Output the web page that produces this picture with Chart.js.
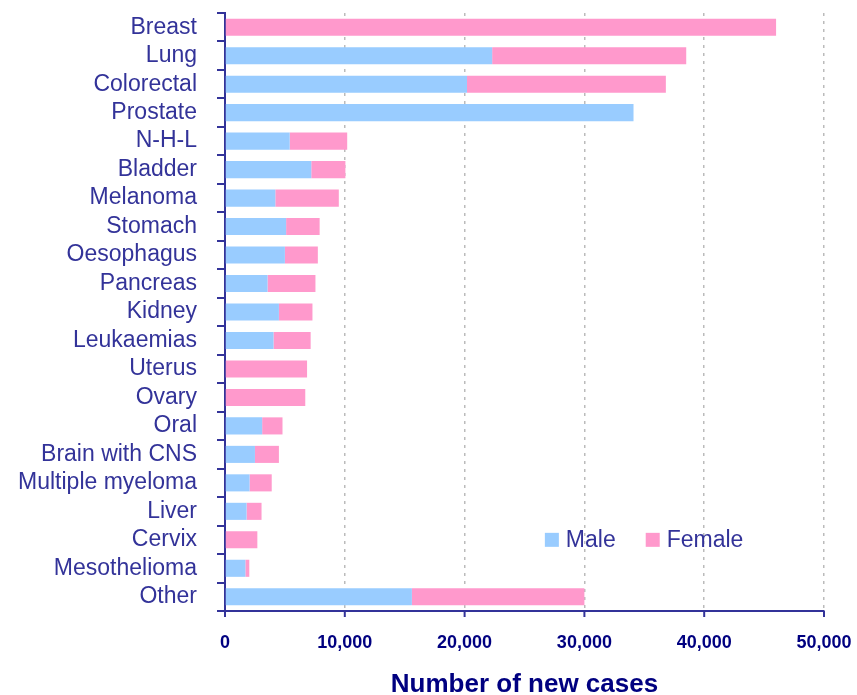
<!DOCTYPE html>
<html>
<head>
<meta charset="utf-8">
<script src="https://cdn.jsdelivr.net/npm/chart.js@4"></script>
<style>
  body { margin: 0; background: #fff; }
</style>
</head>
<body>
<canvas id="casesChart" width="857" height="695"></canvas>
<script>
var sites = ['Breast', 'Lung', 'Colorectal', 'Prostate', 'N-H-L', 'Bladder', 'Melanoma',
    'Stomach', 'Oesophagus', 'Pancreas', 'Kidney', 'Leukaemias', 'Uterus', 'Ovary', 'Oral',
    'Brain with CNS', 'Multiple myeloma', 'Liver', 'Cervix', 'Mesothelioma', 'Other'];
var maleCases = [0, 22300, 20200, 34100, 5400, 7200, 4200, 5100, 5000, 3550, 4500, 4050,
    0, 0, 3100, 2500, 2050, 1800, 0, 1700, 15600];
var femaleCases = [46000, 16200, 16600, 0, 4800, 2850, 5300, 2800, 2750, 4000, 2800, 3100,
    6850, 6700, 1700, 2000, 1850, 1250, 2700, 330, 14400];
var xTicks = [0, 10000, 20000, 30000, 40000, 50000];

var navy = '#333399';

// draws the small tick marks under the x axis and the legend inside the plot
var extras = {
    id: 'extras',
    afterDraw: function (chart) {
        var ctx = chart.ctx;
        var x = chart.scales.x;
        var area = chart.chartArea;
        ctx.save();
        ctx.strokeStyle = navy;
        ctx.lineWidth = 2;
        x.ticks.forEach(function (t) {
            var px = x.getPixelForValue(t.value);
            ctx.beginPath();
            ctx.moveTo(px, x.top);
            ctx.lineTo(px, x.top + 6);
            ctx.stroke();
        });

        ctx.font = '23px "Liberation Sans", Arial, sans-serif';
        ctx.textBaseline = 'middle';
        var lx = area.left + (area.right - area.left) * 0.534;
        var ly = area.top + (area.bottom - area.top) * 0.881;
        chart.data.datasets.forEach(function (ds) {
            ctx.fillStyle = ds.backgroundColor;
            ctx.fillRect(lx, ly - 7, 14, 14);
            ctx.fillStyle = navy;
            ctx.fillText(ds.label, lx + 21, ly + 1);
            lx += 21 + ctx.measureText(ds.label).width + 30;
        });
        ctx.restore();
    }
};

new Chart(document.getElementById('casesChart'), {
    type: 'bar',
    data: {
        labels: sites,
        datasets: [{
            label: 'Male',
            data: maleCases,
            backgroundColor: '#99ccff',
            barPercentage: 0.6,
            categoryPercentage: 1
        }, {
            label: 'Female',
            data: femaleCases,
            backgroundColor: '#ff99cc',
            barPercentage: 0.6,
            categoryPercentage: 1
        }]
    },
    options: {
        indexAxis: 'y',
        responsive: false,
        animation: false,
        layout: { padding: { left: 0, top: 13, right: 33, bottom: 0 } },
        plugins: {
            legend: { display: false },
            tooltip: { enabled: false }
        },
        scales: {
            x: {
                stacked: true,
                min: 0,
                max: 50000,
                afterBuildTicks: function (scale) {
                    scale.ticks = xTicks.map(function (v) { return { value: v }; });
                },
                afterFit: function (scale) {
                    scale.height = 84;
                    scale.paddingLeft = 0;
                    scale.paddingRight = 0;
                },
                grid: {
                    color: '#bbbbbb',
                    lineWidth: 1.5,
                    drawTicks: false
                },
                border: { color: navy, width: 2, dash: [3, 5] },
                ticks: {
                    padding: 21,
                    color: '#000080',
                    font: { family: '"Liberation Sans", Arial, sans-serif', size: 18, weight: 'bold' },
                    callback: function (v) { return v.toLocaleString('en-US'); }
                },
                title: {
                    display: true,
                    text: 'Number of new cases',
                    color: '#000080',
                    padding: 0,
                    font: { family: '"Liberation Sans", Arial, sans-serif', size: 26, weight: 'bold', lineHeight: '20px' }
                }
            },
            y: {
                stacked: true,
                afterFit: function (scale) {
                    scale.width = 225;
                    scale.paddingTop = 0;
                    scale.paddingBottom = 0;
                },
                grid: {
                    drawOnChartArea: false,
                    color: navy,
                    lineWidth: 2,
                    tickLength: 8
                },
                border: { color: navy, width: 2 },
                ticks: {
                    autoSkip: false,
                    padding: 20,
                    color: navy,
                    font: { family: '"Liberation Sans", Arial, sans-serif', size: 23 }
                }
            }
        }
    },
    plugins: [extras]
});
</script>
</body>
</html>
